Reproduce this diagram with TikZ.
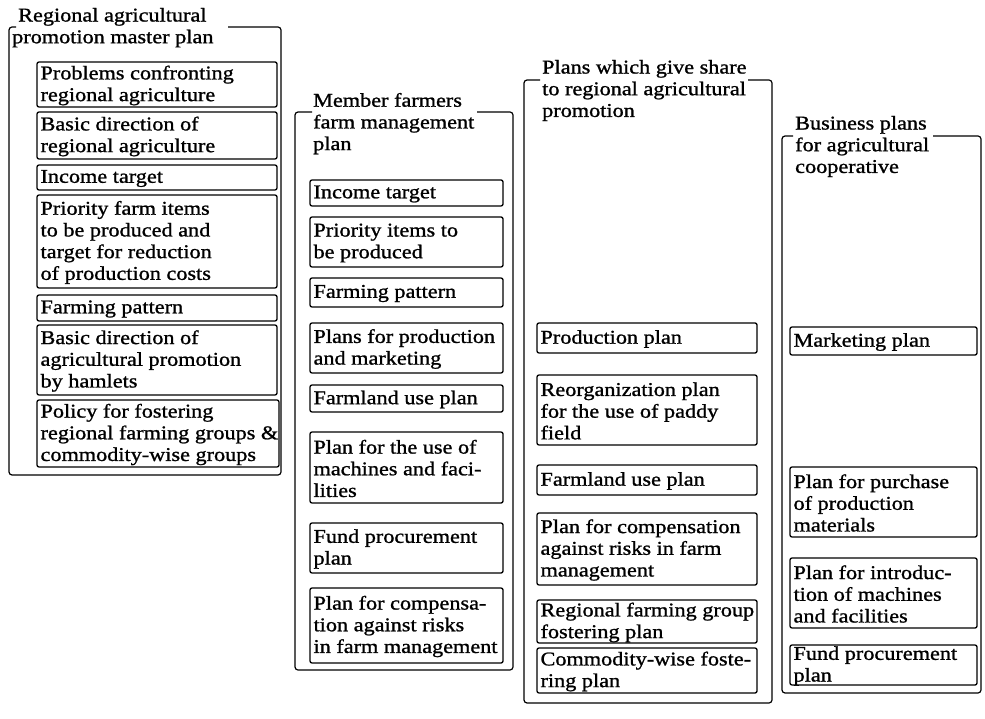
\documentclass[tikz,border=0pt]{standalone}
\usepackage{fontspec}
\setmainfont[FakeStretch=1.14, FakeBold=1.1]{Liberation Serif}
\newcommand\planfont{\fontsize{19.5pt}{21.7pt}\selectfont}
\tikzset{
  planbox/.style={draw, line width=1.3pt, rounded corners=2pt, inner sep=0pt},
  planlabel/.style={inner sep=0pt, align=left, font=\planfont, anchor=west},
  frameline/.style={line width=1.2pt, rounded corners=3pt},
  framehead/.style={anchor=north west, inner sep=0pt, align=left, font=\planfont,
    execute at begin node=\strut},
}
% one plan item: name, left, top, right, bottom, text
\newcommand\planitem[6]{%
  \pgfmathsetmacro\pbw{#4-#2}\pgfmathsetmacro\pbh{#5-#3}%
  \pgfmathsetmacro\pbx{(#2+#4)/2}\pgfmathsetmacro\pby{(#3+#5)/2}%
  \node[planbox, minimum width=\pbw pt, minimum height=\pbh pt] (#1) at (\pbx,\pby) {};
  \node[planlabel] (#1-text) at ([xshift=4pt, yshift=-1pt]#1.west) {#6};
}
\begin{document}
\begin{tikzpicture}[x=1pt, y=-1pt]
\useasboundingbox (0,0) rectangle (985,719);

% --- Regional agricultural promotion master plan
\draw[frameline] (16,27) -- (9,27) -- (9,475) -- (281,475) -- (281,27) -- (228,27);
\node[framehead] (masterhead) at (12,7.8) {\hspace*{6pt}Regional agricultural\\promotion master plan};
\planitem{a1}{37}{62}{277}{107}{Problems confronting\\regional agriculture}
\planitem{a2}{37}{112}{277}{159}{Basic direction of\\regional agriculture}
\planitem{a3}{37}{165}{277}{190}{Income target}
\planitem{a4}{37}{195}{277}{288}{Priority farm items\\to be produced and\\target for reduction\\of production costs}
\planitem{a5}{37}{295}{277}{321}{Farming pattern}
\planitem{a6}{37}{325}{277}{395}{Basic direction of\\agricultural promotion\\by hamlets}
\planitem{a7}{37}{400}{279}{467}{Policy for fostering\\regional farming groups \&\\commodity-wise groups}

% --- Member farmers farm management plan
\draw[frameline] (312,112) -- (295,112) -- (295,670) -- (513,670) -- (513,112) -- (477,112);
\node[framehead] (farmhead) at (313,92.8) {Member farmers\\farm management\\plan};
\planitem{b1}{310}{180}{503}{206}{Income target}
\planitem{b2}{310}{217}{503}{267}{Priority items to\\be produced}
\planitem{b3}{310}{278}{503}{307}{Farming pattern}
\planitem{b4}{310}{323}{503}{373}{Plans for production\\and marketing}
\planitem{b5}{310}{385}{503}{412}{Farmland use plan}
\planitem{b6}{310}{432}{503}{503}{Plan for the use of\\machines and faci-\\lities}
\planitem{b7}{310}{523}{503}{573}{Fund procurement\\plan}
\planitem{b8}{310}{588}{503}{663}{Plan for compensa-\\tion against risks\\in farm management}

% --- Plans which give share to regional agricultural promotion
\draw[frameline] (540,80) -- (524,80) -- (524,703) -- (772,703) -- (772,80) -- (748,80);
\node[framehead] (sharehead) at (542,59.8) {Plans which give share\\to regional agricultural\\promotion};
\planitem{c1}{537}{323}{757}{353}{Production plan}
\planitem{c2}{537}{375}{757}{445}{Reorganization plan\\for the use of paddy\\field}
\planitem{c3}{537}{465}{757}{495}{Farmland use plan}
\planitem{c4}{537}{513}{757}{585}{Plan for compensation\\against risks in farm\\management}
\planitem{c5}{537}{600}{757}{643}{Regional farming group\\fostering plan}
\planitem{c6}{537}{648}{757}{693}{Commodity-wise foste-\\ring plan}

% --- Business plans for agricultural cooperative
\draw[frameline] (793,136) -- (782,136) -- (782,693) -- (981,693) -- (981,136) -- (933,136);
\node[framehead] (coophead) at (795,115.8) {Business plans\\for agricultural\\cooperative};
\planitem{d1}{790}{327}{977}{355}{Marketing plan}
\planitem{d2}{790}{467}{977}{537}{Plan for purchase\\of production\\materials}
\planitem{d3}{790}{558}{977}{628}{Plan for introduc-\\tion of machines\\and facilities}
\planitem{d4}{790}{645}{977}{685}{Fund procurement\\plan}
\end{tikzpicture}
\end{document}
